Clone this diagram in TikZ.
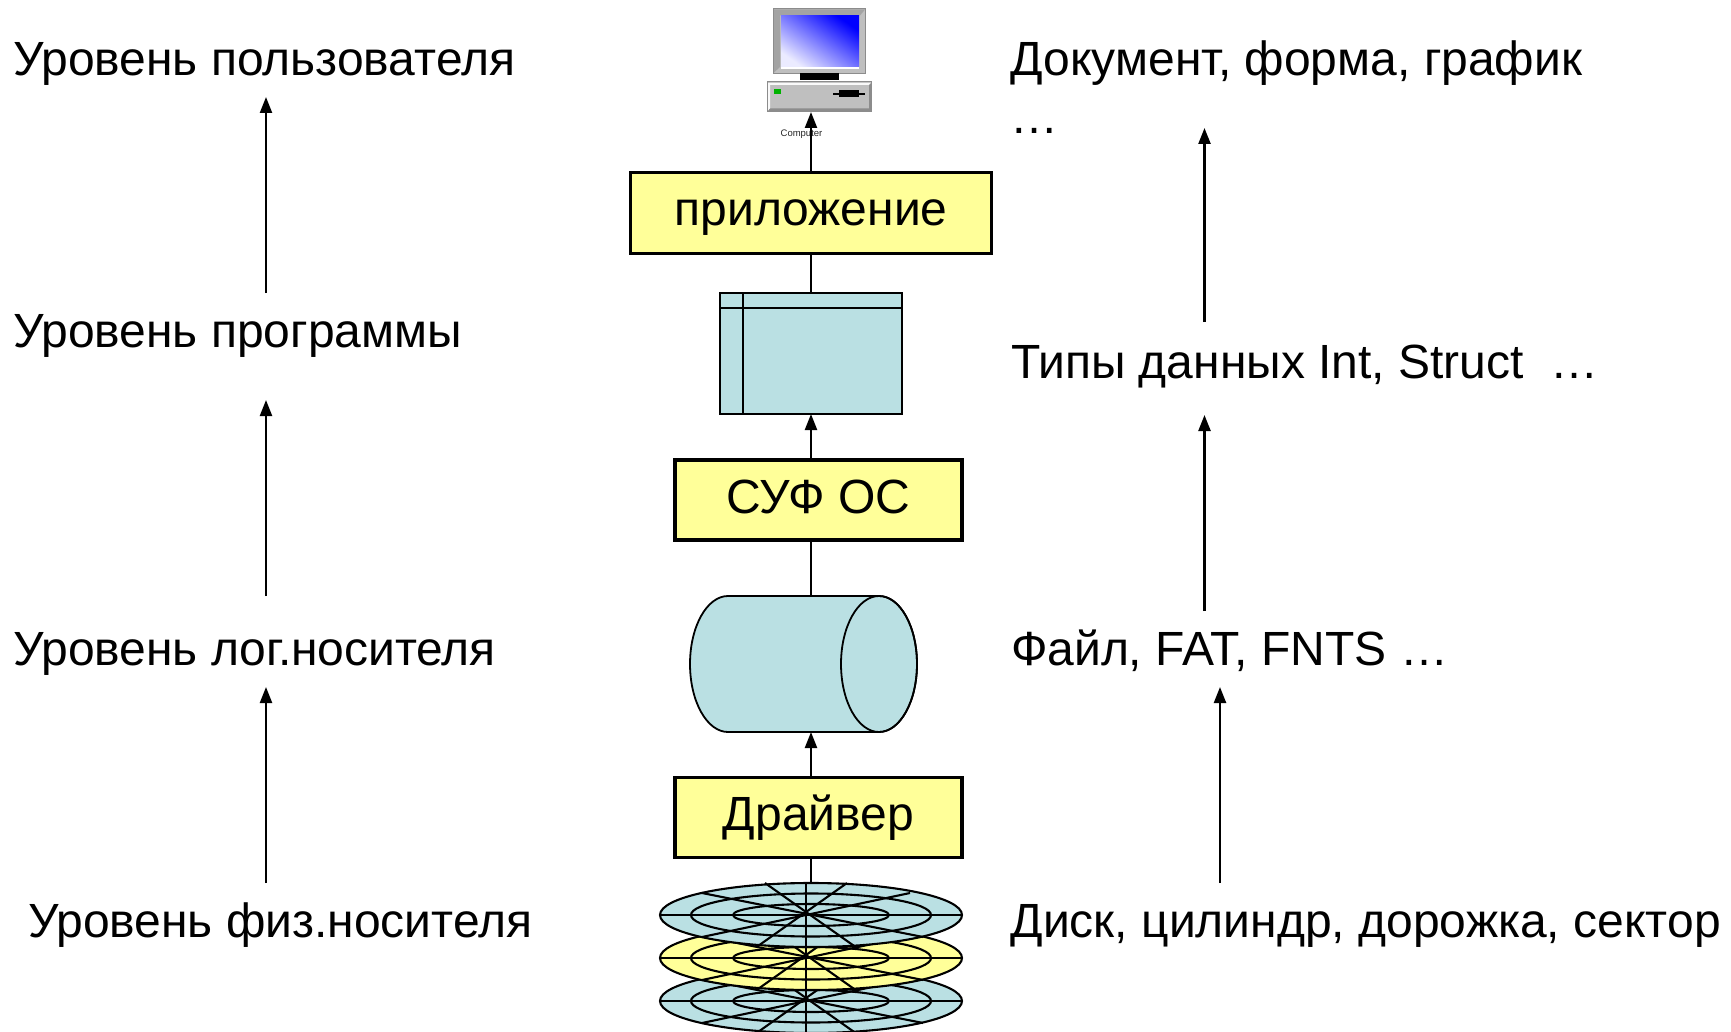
\documentclass[tikz,border=0pt]{standalone}
\usepackage{fontspec}
\setmainfont{Liberation Sans}
\usetikzlibrary{arrows.meta,shapes.geometric,calc}
\definecolor{ybox}{HTML}{FFFF99}
\definecolor{tealf}{HTML}{BAE0E3}
\definecolor{gframe}{HTML}{BFBFBF}
\definecolor{gdark}{HTML}{8C8C8C}
\tikzset{
  every node/.style={inner sep=0pt,outer sep=0pt},
  lbl/.style={anchor=base west,font=\fontsize{48}{58}\selectfont},
  ybx/.style={draw=black,fill=ybox,line width=3.8pt,minimum width=#1,text height=36pt,text depth=10pt,font=\fontsize{48}{58}\selectfont},
  conn/.style={line width=2.3pt,draw=black},
  arr/.style={conn,-{Triangle[length=16pt,width=12pt]}},
  thin1/.style={line width=1.8pt,draw=black},
  diskl/.style={line width=2.1pt,draw=black},
  disk/.style={diskl,ellipse,minimum width=302pt,minimum height=64pt},
}
\begin{document}
\begin{tikzpicture}[x=1pt,y=-1pt]
\useasboundingbox (0,0) rectangle (1731,1032);
% --- disks (bottom to top)
\foreach \cy/\col/\nm in {1001/tealf/dc,958/ybox/db,915/tealf/da}{
  \node[disk,fill=\col] (\nm) at (811,\cy) {};
  \draw[diskl] (811,\cy) ellipse [x radius=120,y radius=21.5];
  \draw[diskl] (811,\cy) ellipse [x radius=78,y radius=11];
  \draw[diskl] (660,\cy) -- (962,\cy);
  \draw[diskl] (806,\cy-32) -- (806,\cy+32);
  \draw[diskl] (765,\cy-32) -- (857,\cy+33);
  \draw[diskl] (847,\cy-32) -- (758,\cy+31);
  \draw[diskl] (702,\cy-22) -- (923,\cy+22);
  \draw[diskl] (910,\cy-22) -- (702,\cy+22);
}
% --- cylinder
\node[minimum width=227pt,minimum height=136pt] (cyl) at (803.5,664) {};
\draw[thin1,fill=tealf] (728,596) -- (879,596) arc[start angle=90,end angle=-90,x radius=38pt,y radius=68pt]
   -- (728,732) arc[start angle=-90,end angle=-270,x radius=38pt,y radius=68pt] -- cycle;
\draw[thin1] (879,664) ellipse [x radius=38pt,y radius=68pt];
% --- window
\node[thin1,fill=tealf,minimum width=182pt,minimum height=121pt] (win) at (811,353.5) {};
\draw[thin1] (720,308) -- (902,308);
\draw[thin1] (743,293) -- (743,414);
% --- boxes
\node[ybx=361pt,minimum height=81pt] (app) at (811,213) {приложение};
\node[ybx=287.5pt,minimum height=80pt] (suf) at (818.5,500) {СУФ ОС};
\node[ybx=287.5pt,minimum height=80pt] (drv) at (818.5,817.5) {Драйвер};
% --- computer
\node[draw=gdark,line width=1pt,fill=gframe,minimum width=92pt,minimum height=65pt] (mon) at (819.5,41) {};
\fill[gdark!80] (774,9.5) -- (865,9.5) -- (860,15.5) -- (780,15.5) -- (780,67) -- (774,72.5) -- cycle;
\shade[shading=axis,left color=blue!8!white,middle color=blue!72!white,right color=blue,shading angle=145] (781,16) rectangle (859,67);
\fill[white] (781,67) rectangle (859,69);
\fill[black] (800,73.5) rectangle (839,80);
\node[draw=gdark,line width=1pt,fill=gframe,minimum width=104pt,minimum height=30pt] (base) at (819.5,97) {};
\fill[white!90!gframe] (768,83) -- (871,83) -- (869,85) -- (770,85) -- (770,109) -- (768,111) -- cycle;
\fill[gdark] (768,111) -- (770,108.5) -- (869,108.5) -- (869,85) -- (871,83) -- (871,111) -- cycle;
\fill[green!70!black] (774,89) rectangle (781,94);
\draw[line width=2pt,black] (833,94) -- (865,94);
\fill[black] (839,90) rectangle (859,97);
\node[font=\fontsize{9.5}{11}\selectfont,text=black!85] (complbl) at (801.5,134.5) {Computer};
% --- central connectors
\draw[arr] (app.north) -- (app.north|-base.south);
\draw[conn] (app.south) -- (win.north);
\draw[arr] (win.south|-suf.north) -- (win.south);
\draw[conn] (win.south|-suf.south) -- (win.south|-cyl.north);
\draw[arr] (win.south|-drv.north) -- (win.south|-cyl.south);
\draw[conn] (win.south|-drv.south) -- (win.south|-da.north);
% --- left labels
\node[lbl] (l1) at (13,76) {Уровень пользователя};
\node[lbl] (l2) at (13,347) {Уровень программы};
\node[lbl] (l3) at (13,665) {Уровень лог.носителя};
\node[lbl] (l4) at (28,937) {Уровень физ.носителя};
% --- right labels
\node[lbl] (r1) at (1010.5,76) {Документ, форма, график};
\node[lbl] (r1b) at (1010.5,134) {…};
\node[lbl] (r2) at (1011,378) {Типы данных Int, Struct~~…};
\node[lbl] (r3) at (1011,665) {Файл, FAT, FNTS …};
\node[lbl] (r4) at (1010.5,937) {Диск, цилиндр, дорожка, сектор};
% --- side arrows
\foreach \nm/\x/\ya/\yb in {la/266/293/97,lb/266/596/400,lc/266/883/687,ra/1204.5/322/128,rb/1204.5/611/415,rc/1220/883/687}{
  \coordinate (\nm s) at (\x,\ya);
  \coordinate (\nm e) at (\x,\yb);
  \draw[arr] (\nm s) -- (\nm e);
}
\end{tikzpicture}
\end{document}
